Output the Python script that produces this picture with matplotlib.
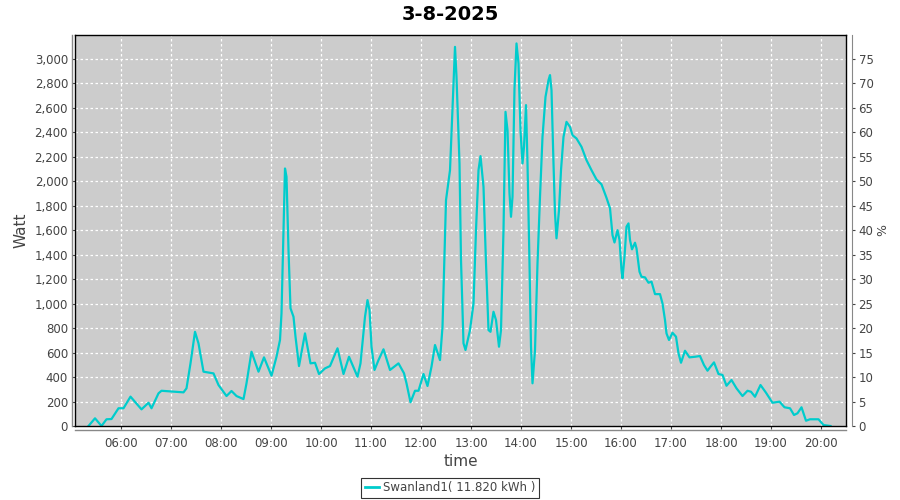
import matplotlib
matplotlib.use("Agg")
import matplotlib.pyplot as plt
from matplotlib.ticker import FuncFormatter, FixedLocator

title = "3-8-2025"
series_name = "Swanland1( 11.820 kWh )"

hours = [5.35, 5.48, 5.61, 5.71, 5.81, 5.95, 6.05, 6.19, 6.41, 6.55, 6.61, 6.75, 6.81,
         7.25, 7.31, 7.39, 7.48, 7.55, 7.65, 7.85, 7.95, 8.11, 8.21, 8.31, 8.45, 8.51,
         8.61, 8.75, 8.86, 9.01, 9.11, 9.18, 9.21, 9.25, 9.28, 9.31, 9.35, 9.39, 9.45,
         9.49, 9.56, 9.68, 9.79, 9.88, 9.96, 10.08, 10.18, 10.33, 10.45, 10.56, 10.73,
         10.79, 10.88, 10.93, 10.97, 11.01, 11.07, 11.15, 11.25, 11.38, 11.55, 11.66,
         11.71, 11.79, 11.88, 11.95, 12.05, 12.13, 12.21, 12.28, 12.38, 12.43, 12.50,
         12.58, 12.68, 12.71, 12.77, 12.80, 12.85, 12.89, 12.98, 13.05, 13.10, 13.15,
         13.19, 13.25, 13.30, 13.35, 13.39, 13.45, 13.50, 13.56, 13.60, 13.65, 13.69,
         13.73, 13.77, 13.80, 13.83, 13.87, 13.91, 13.95, 13.99, 14.03, 14.06, 14.10,
         14.13, 14.17, 14.20, 14.23, 14.28, 14.33, 14.38, 14.43, 14.49, 14.55, 14.58,
         14.61, 14.65, 14.68, 14.71, 14.76, 14.80, 14.85, 14.91, 14.98, 15.03, 15.11,
         15.21, 15.31, 15.41, 15.51, 15.61, 15.71, 15.78, 15.83, 15.87, 15.93, 15.97,
         16.01, 16.03, 16.07, 16.11, 16.15, 16.18, 16.22, 16.28, 16.31, 16.37, 16.41,
         16.48, 16.55, 16.61, 16.68, 16.78, 16.83, 16.88, 16.91, 16.96, 17.03, 17.10,
         17.15, 17.20, 17.28, 17.37, 17.48, 17.58, 17.66, 17.73, 17.79, 17.86, 17.95,
         18.03, 18.11, 18.21, 18.31, 18.43, 18.53, 18.60, 18.68, 18.79, 18.90, 19.03,
         19.17, 19.27, 19.38, 19.46, 19.53, 19.61, 19.70, 19.78, 19.95, 20.05, 20.19]

watts = [0, 63, 0, 55, 57, 145, 145, 240, 136, 190, 145, 267, 288,
         275, 308, 512, 770, 675, 444, 430, 335, 245, 286, 245, 220, 349,
         607, 444, 561, 411, 566, 703, 921, 1615, 2105, 2037, 1438, 962, 893,
         730, 490, 757, 512, 517, 425, 471, 490, 635, 425, 566, 403,
         512, 893, 1029, 948, 648, 458, 539, 627, 458, 512, 431,
         349, 194, 288, 288, 425, 327, 485, 662, 539, 811, 1846,
         2091, 3099, 2854, 2146, 1356, 676, 621, 784, 1002, 1601, 2091,
         2206, 1955, 1329, 784, 770, 934, 866, 648, 784, 1601, 2568,
         2418, 1901, 1710, 1873, 2758, 3127, 2963, 2418, 2146, 2282, 2623,
         2146, 1329, 648, 349, 621, 1329, 1873, 2363, 2690, 2827, 2868,
         2745, 2146, 1738, 1534, 1765, 2091, 2363, 2486, 2445, 2377, 2350,
         2282, 2173, 2091, 2015, 1975, 1865, 1780, 1560, 1500, 1601, 1520,
         1275, 1207, 1384, 1629, 1656, 1520, 1444, 1498, 1452, 1261, 1220,
         1215, 1171, 1180, 1078, 1078, 1002, 866, 757, 703, 762, 730,
         594, 517, 615, 561, 566, 572, 498, 452, 485, 520, 425,
         417, 329, 376, 308, 245, 288, 280, 239, 335, 272, 190,
         199, 153, 145, 90, 104, 153, 43, 55, 55, 8, 0]

x_tick_hours = list(range(6, 21))
x_tick_labels = ["%02d:00" % h for h in x_tick_hours]
left_ticks = list(range(0, 3001, 200))
right_ticks = list(range(0, 76, 5))

fig = plt.figure(figsize=(9, 5), dpi=100)
fig.patch.set_facecolor("white")
ax = fig.add_axes([75/900, 74/500, (846-75)/900, (426-35)/500])
ax.set_facecolor("#cccccc")

ax.plot(hours, watts, color="#00cccc", lw=1.6, solid_joinstyle="round")

ax.set_xlim(5.08, 20.5)
ymax = 3196
ax.set_ylim(0, ymax)

ax.xaxis.set_major_locator(FixedLocator(x_tick_hours))
ax.set_xticklabels(x_tick_labels)
ax.yaxis.set_major_locator(FixedLocator(left_ticks))
ax.yaxis.set_major_formatter(FuncFormatter(lambda v, p: "{:,.0f}".format(v)))

ax.grid(True, color="white", linestyle=(0, (2, 2)), linewidth=0.9)
ax.set_axisbelow(True)

for s in ["top", "right", "left", "bottom"]:
    ax.spines[s].set_color("black")
    ax.spines[s].set_linewidth(1.0)

ax.tick_params(axis="both", colors="#444444", labelsize=8.5, length=2, width=0.8,
               labelcolor="#444444")
ax.tick_params(axis="x", pad=6)
ax.tick_params(axis="y", pad=3)

ax2 = ax.twinx()
ax2.set_ylim(0, ymax / 40.0)
ax2.yaxis.set_major_locator(FixedLocator(right_ticks))
ax2.tick_params(axis="y", colors="#444444", labelsize=8.5, length=2, width=0.8,
                labelcolor="#444444", pad=3)
for s in ["top", "left", "bottom"]:
    ax2.spines[s].set_visible(False)
ax2.spines["right"].set_position(("outward", 4))
ax2.spines["right"].set_color("#888888")

fig.add_artist(plt.Line2D([72/900, 72/900], [74/500, 465/500], color="#888888", lw=1.0))
fig.add_artist(plt.Line2D([75/900, 846/900], [70/500, 70/500], color="#888888", lw=1.0))

ax.set_ylabel("Watt", fontsize=11, color="#444444", labelpad=4)
ax2.set_ylabel("%", fontsize=9, color="#444444", labelpad=2)
ax.set_xlabel("time", fontsize=11, color="#444444", labelpad=3)

fig.text(0.5, 1 - 14/500, title, ha="center", va="center", fontsize=14,
         fontweight="bold", color="black")

leg = fig.legend(handles=[plt.Line2D([], [], color="#00cccc", lw=2)], labels=[series_name],
                 loc="center", bbox_to_anchor=(450/900, 1 - 488/500), frameon=True,
                 fontsize=8.5, handlelength=1.2, handletextpad=0.3, borderpad=0.3,
                 fancybox=False, edgecolor="black")
leg.get_frame().set_linewidth(0.8)
for t in leg.get_texts():
    t.set_color("#444444")

fig.savefig("out.png", dpi=100)
